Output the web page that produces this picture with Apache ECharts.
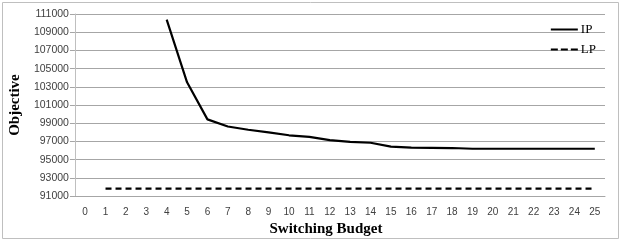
<!DOCTYPE html>
<html><head><meta charset="utf-8">
<script src="https://cdn.jsdelivr.net/npm/echarts@6/dist/echarts.min.js"></script>
<style>html,body{margin:0;padding:0;background:#fff}#c{width:623px;height:242px}</style>
</head><body><div id="c"></div>
<script>
const categories = ['0','1','2','3','4','5','6','7','8','9','10','11','12','13','14','15','16','17','18','19','20','21','22','23','24','25'];
const ipValues = [null,null,null,null,110380,103500,99430,98640,98290,98000,97680,97500,97140,96960,96860,96430,96320,96300,96280,96200,96200,96200,96200,96200,96200,96200];
const lpValues = [null,91820,91820,91820,91820,91820,91820,91820,91820,91820,91820,91820,91820,91820,91820,91820,91820,91820,91820,91820,91820,91820,91820,91820,91820,91820];
const yTicks = {min:91000, max:111000, interval:2000};

const chart = echarts.init(document.getElementById('c'));
chart.setOption({
  animation:false,
  backgroundColor:'#fff',
  graphic:[{type:'rect', shape:{x:2.5,y:2.5,width:616,height:236}, style:{fill:null, stroke:'#bfbfbf', lineWidth:1}, z:-1}],
  grid:{left:68, right:18, top:14, bottom:41},
  legend:{
    orient:'vertical', right:22, top:18, itemGap:7, itemWidth:27, itemHeight:2,
    itemStyle:{borderWidth:0},
    textStyle:{fontFamily:'Liberation Serif', fontSize:13, color:'#000', padding:[0,0,0,-2]},
    data:[
      {name:'IP', icon:'path://M0,0H27V2H0Z'},
      {name:'LP', icon:'path://M0,0H7V2H0Z M10,0H17V2H10Z M20,0H27V2H20Z'}
    ]
  },
  xAxis:{
    type:'category', data:categories, boundaryGap:true,
    name:'Switching Budget', nameLocation:'middle', nameGap:22,
    nameTextStyle:{fontFamily:'Liberation Serif', fontWeight:'bold', fontSize:15, color:'#000', padding:[0,28,0,0]},
    axisLine:{show:true, lineStyle:{color:'#a6a6a6', width:1}}, axisTick:{show:false},
    axisLabel:{fontFamily:'Liberation Sans', fontSize:10, color:'#404040', margin:11, interval:0}
  },
  yAxis:{
    type:'value', min:yTicks.min, max:yTicks.max, interval:yTicks.interval,
    name:'Objective', nameLocation:'middle', nameGap:51,
    nameTextStyle:{fontFamily:'Liberation Serif', fontWeight:'bold', fontSize:15, color:'#000'},
    axisLine:{show:true, lineStyle:{color:'#bfbfbf', width:1}},
    axisTick:{show:true, length:5, inside:false, lineStyle:{color:'#a6a6a6'}},
    axisLabel:{fontFamily:'Liberation Sans', fontSize:10.5, color:'#404040', margin:6, formatter:function(v){return String(v);}},
    splitLine:{lineStyle:{color:'#a6a6a6', width:1}}
  },
  series:[
    {name:'IP', type:'line', data:ipValues, symbol:'none', connectNulls:false,
      lineStyle:{color:'#000', width:2.2}, itemStyle:{color:'#000'}},
    {name:'LP', type:'line', data:lpValues, symbol:'none',
      lineStyle:{color:'#000', width:2.2, type:[6,4]}, itemStyle:{color:'#000'}}
  ]
});
</script></body></html>
